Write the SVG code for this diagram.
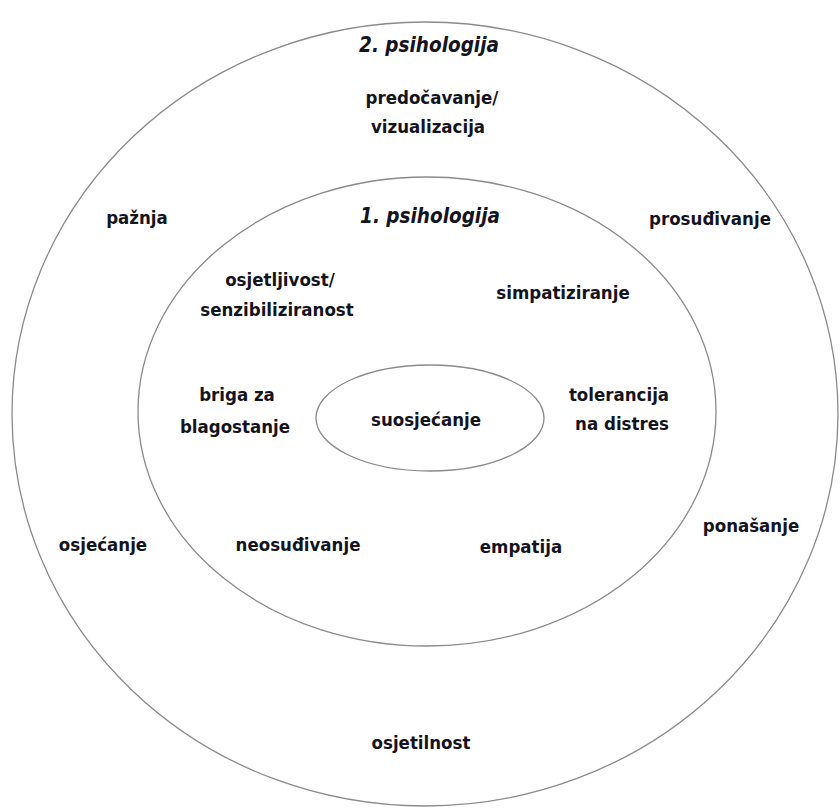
<svg xmlns="http://www.w3.org/2000/svg" width="840" height="809" viewBox="0 0 840 809">
<style>
.ring{fill:none;stroke:#8a8a8a;stroke-width:1.3}
text{font-family:"DejaVu Sans Condensed","DejaVu Sans","Liberation Sans",sans-serif;font-stretch:condensed;font-weight:bold;font-size:18.5px;fill:#141420;text-anchor:middle}
.title{font-style:italic;font-size:20.5px}
</style>
<rect width="840" height="809" fill="#ffffff"/>
<g id="connectors"></g>
<g id="outer">
<ellipse class="ring" cx="425" cy="414" rx="413" ry="392"/>
<text class="title" x="429" y="52">2. psihologija</text>
<text x="432" y="104">predočavanje/</text>
<text x="428" y="133">vizualizacija</text>
<text x="137" y="224">pažnja</text>
<text x="710" y="225">prosuđivanje</text>
<text x="103" y="551">osjećanje</text>
<text x="751" y="532">ponašanje</text>
<text x="421" y="749">osjetilnost</text>
</g>
<g id="inner">
<ellipse class="ring" cx="427" cy="411.5" rx="289" ry="234.5"/>
<text class="title" x="430" y="223">1. psihologija</text>
<text x="280" y="286">osjetljivost/</text>
<text x="277" y="316">senzibiliziranost</text>
<text x="563" y="299">simpatiziranje</text>
<text x="237" y="401">briga za</text>
<text x="235" y="433">blagostanje</text>
<text x="619" y="401">tolerancija</text>
<text x="622" y="430">na distres</text>
<text x="298" y="551">neosuđivanje</text>
<text x="521" y="553">empatija</text>
</g>
<g id="core">
<ellipse class="ring" cx="430" cy="418" rx="114" ry="53"/>
<text x="426" y="426">suosjećanje</text>
</g>
</svg>
